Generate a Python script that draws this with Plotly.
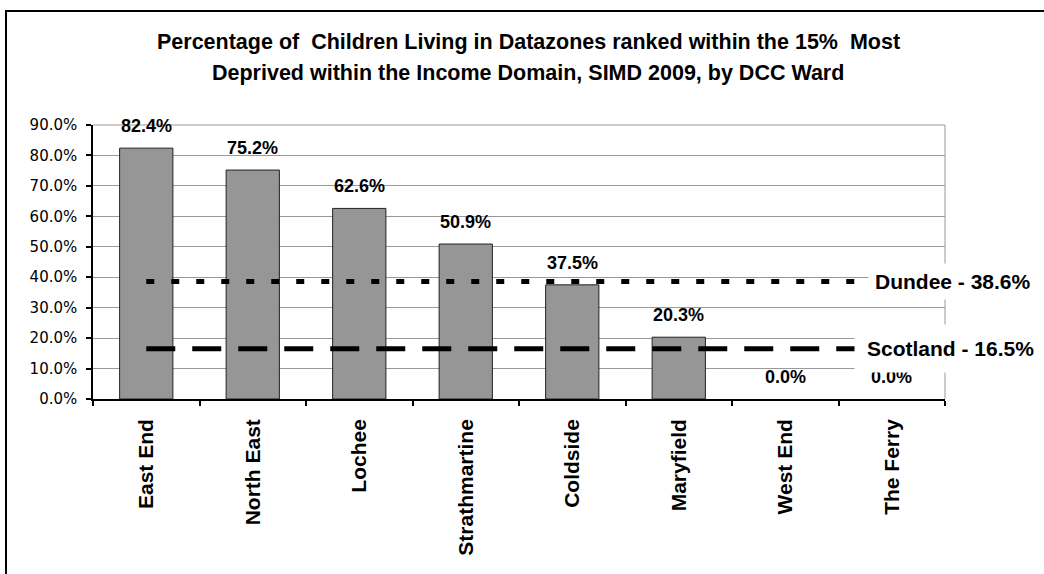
import plotly.graph_objects as go

# ---- data ----
wards = ["East End", "North East", "Lochee", "Strathmartine", "Coldside",
         "Maryfield", "West End", "The Ferry"]
pct_children = [82.4, 75.2, 62.6, 50.9, 37.5, 20.3, 0.0, 0.0]
dundee_pct = 38.6
scotland_pct = 16.5
title_lines = ["Percentage of  Children Living in Datazones ranked within the 15%  Most",
               "Deprived within the Income Domain, SIMD 2009, by DCC Ward"]

W, H = 1044, 574
L, R, T, B = 93, 99, 125, 175
pw, ph = W - L - R, H - T - B

def px_x(p):
    return (p - L) / pw

def px_y(p):
    return (H - B - p) / ph

fig = go.Figure()
fig.add_trace(go.Bar(
    x=wards, y=[v / 100 for v in pct_children], width=0.5,
    marker=dict(color="#969696",
                line=dict(color="#222222", width=[1 if v > 0 else 0 for v in pct_children])),
    showlegend=False, hoverinfo="skip"))

fig.add_trace(go.Scatter(
    x=[wards[0], wards[-1]], y=[dundee_pct / 100] * 2, mode="lines",
    line=dict(color="black", width=5, dash="8px,17px"),
    showlegend=False, hoverinfo="skip"))
fig.add_trace(go.Scatter(
    x=[wards[0], wards[-1]], y=[scotland_pct / 100] * 2, mode="lines",
    line=dict(color="black", width=5, dash="29px,17px"),
    showlegend=False, hoverinfo="skip"))

annotations = []
for w, v in zip(wards, pct_children):
    annotations.append(dict(
        x=w, y=v / 100, text=f"{v:.1f}%", showarrow=False,
        yanchor="middle", yshift=22,
        font=dict(family="Liberation Sans", size=18, color="black", weight="bold")))

annotations.append(dict(
    x=wards[-1], y=dundee_pct / 100, text=f"Dundee - {dundee_pct:.1f}%",
    showarrow=False, xanchor="left", yanchor="middle", xshift=-24,
    bgcolor="white", borderpad=6,
    font=dict(family="Liberation Sans", size=21, color="black", weight="bold")))
annotations.append(dict(
    x=wards[-1], y=scotland_pct / 100, text=f"Scotland - {scotland_pct:.1f}%",
    showarrow=False, xanchor="left", yanchor="middle", xshift=-38,
    bgcolor="white", borderpad=12,
    font=dict(family="Liberation Sans", size=21, color="black", weight="bold")))

for i, (txt, ypx) in enumerate(zip(title_lines, [42, 73])):
    annotations.append(dict(
        x=px_x(528), y=px_y(ypx), xref="paper", yref="paper", text=txt,
        showarrow=False, xanchor="center", yanchor="middle",
        font=dict(family="Liberation Sans", size=21.5, color="black", weight="bold")))

shapes = [
    # outer chart border (extends beyond the visible image)
    dict(type="rect", xref="paper", yref="paper",
         x0=px_x(6), x1=px_x(W + 20), y0=px_y(H + 20), y1=px_y(11),
         line=dict(color="black", width=2), fillcolor="rgba(0,0,0,0)", layer="below"),
    # plot area border top and right
    dict(type="line", xref="paper", yref="paper", x0=0, x1=1, y0=1, y1=1,
         line=dict(color="#999999", width=1), layer="below"),
    dict(type="line", xref="paper", yref="paper", x0=1, x1=1, y0=0, y1=1,
         line=dict(color="#999999", width=1), layer="below"),
]

fig.update_layout(
    width=W, height=H,
    margin=dict(l=L, r=R, t=T, b=B),
    paper_bgcolor="white", plot_bgcolor="white",
    annotations=annotations, shapes=shapes,
    bargap=0.5,
    xaxis=dict(
        type="category", range=[-0.5, len(wards) - 0.5],
        showline=True, linecolor="black", linewidth=1.5,
        ticks="outside", ticklen=5, tickcolor="black", tickwidth=1.5,
        tickson="boundaries", showgrid=False, tickangle=-90,
        ticklabelstandoff=10,
        tickfont=dict(family="Liberation Sans", size=21, color="black", weight="bold")),
    yaxis=dict(
        range=[0, 0.9], dtick=0.1, tickformat=".1%",
        showline=True, linecolor="black", linewidth=1.5,
        ticks="outside", ticklen=5, tickcolor="black", tickwidth=1.5,
        showgrid=True, gridcolor="#999999", gridwidth=1, zeroline=False,
        ticklabelstandoff=6,
        tickfont=dict(family="DejaVu Sans", size=15, color="black")),
)

fig.write_html("out.html")
